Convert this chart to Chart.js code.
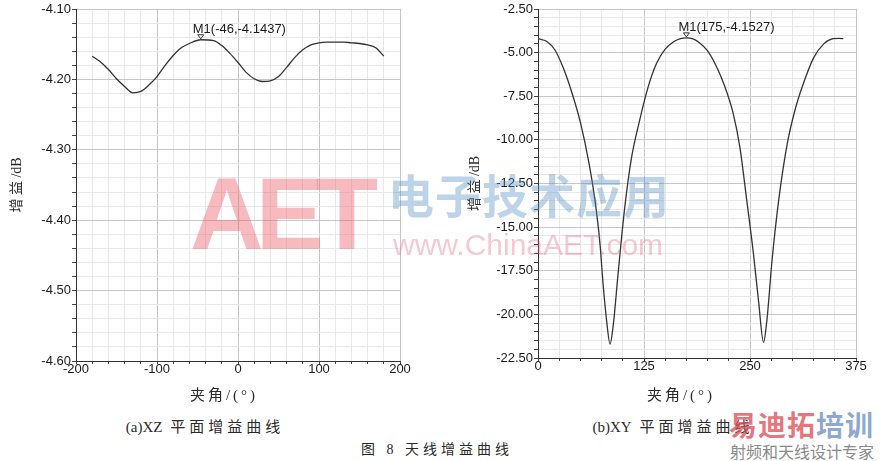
<!DOCTYPE html>
<html>
<head>
<meta charset="utf-8">
<script src="https://cdn.jsdelivr.net/npm/chart.js@4.4.1/dist/chart.umd.min.js"></script>
<style>
    body { margin: 0; background: #fff; }
    #page { position: relative; width: 881px; height: 461px; overflow: hidden; background: #fff; }
    canvas { position: absolute; top: 0; }
    .txt { position: absolute; white-space: nowrap; color: #2a2a2a; transform: translate(-50%, -50%);
           font-family: 'Liberation Serif', 'Noto Sans CJK SC', serif; }
    .lat { letter-spacing: 0; }
    .wm { position: absolute; white-space: nowrap; pointer-events: none; }
</style>
</head>
<body>
<div id="page">
    <canvas id="xzChart" width="420" height="385" style="left:0"></canvas>
    <canvas id="xyChart" width="431" height="385" style="left:450px"></canvas>

    <div class="txt" style="left:224px; top:393px; font-size:15px; letter-spacing:3px">夹角/(°)</div>
    <div class="txt" style="left:681px; top:393px; font-size:15px; letter-spacing:3px">夹角/(°)</div>
    <div class="txt" style="left:205px; top:425px; font-size:15px; letter-spacing:4px"><span class="lat">(a)XZ</span> 平面增益曲线</div>
    <div class="txt" style="left:673px; top:425px; font-size:15px; letter-spacing:4px"><span class="lat">(b)XY</span> 平面增益曲线</div>
    <div class="txt" style="left:437px; top:448px; font-size:14px; letter-spacing:4px">图 8  天线增益曲线</div>

    <!-- watermarks -->
    <div class="wm" style="left:190px; top:156px; font:700 102px 'Liberation Sans', Arial, sans-serif; letter-spacing:-8px; color:rgba(236,90,100,0.42)">AET</div>
    <div class="wm" style="left:388px; top:160px; font:700 46px 'Noto Sans CJK SC', sans-serif; letter-spacing:1px; color:rgba(80,140,195,0.38)">电子技术应用</div>
    <div class="wm" style="left:393px; top:228px; font:30px 'Liberation Sans', Arial, sans-serif; color:rgba(225,100,130,0.35)">www.ChinaAET.com</div>
    <div class="wm" style="left:729px; top:404px; font:700 28px 'Noto Sans CJK SC', sans-serif; letter-spacing:1px">
        <span style="color:rgba(222,80,90,0.8)">易迪拓</span><span style="color:rgba(110,145,195,0.8)">培训</span>
    </div>
    <div class="wm" style="left:730px; top:439px; font:16px 'Noto Sans CJK SC', sans-serif; color:#8a8a8a">射频和天线设计专家</div>
</div>

<script>
// XZ plane gain
const xzAngle = [-180, -170, -160, -150, -140, -130, -120, -110, -100, -90, -80, -70, -60, -46,
                 -30, -20, -10, 0, 10, 20, 30, 40, 50, 60, 70, 80, 90, 100, 110, 120, 130, 140,
                 150, 160, 170, 180];
const xzGain = [-4.167, -4.175, -4.186, -4.199, -4.210, -4.219, -4.217, -4.208, -4.196, -4.180,
                -4.166, -4.155, -4.149, -4.1437, -4.145, -4.152, -4.163, -4.176, -4.190, -4.199,
                -4.203, -4.202, -4.196, -4.183, -4.169, -4.158, -4.151, -4.148, -4.147, -4.147,
                -4.147, -4.148, -4.149, -4.151, -4.155, -4.167];

// XY plane gain
const xyAngle = [0, 10, 20, 30, 40, 50, 60, 67, 73, 77, 81, 85, 89, 94, 102, 110, 120, 130, 140,
                 150, 160, 168, 175, 182, 190, 200, 210, 220, 230, 238, 246, 254, 260, 266, 270,
                 276, 284, 294, 303, 312, 325, 337, 348, 355, 360];
const xyGain = [-4.20, -4.35, -4.85, -5.9, -7.3, -9.0, -11.3, -13.4, -15.9, -18.4, -20.4, -21.7,
                -20.5, -17.9, -14.0, -11.1, -8.85, -6.95, -5.6, -4.8, -4.38, -4.2, -4.1527, -4.2,
                -4.42, -4.9, -5.75, -6.9, -8.45, -10.4, -13.4, -16.5, -19.2, -21.6, -20.3, -16.9,
                -13.4, -10.2, -8.3, -6.9, -5.3, -4.5, -4.2, -4.18, -4.2];

// tick labels
const xzXTicks = [-200, -100, 0, 100, 200];
const xzYTicks = [-4.60, -4.50, -4.40, -4.30, -4.20, -4.10];
const xyXTicks = [0, 125, 250, 375];
const xyYTicks = [-22.50, -20.00, -17.50, -15.00, -12.50, -10.00, -7.50, -5.00, -2.50];

// markers
const xzMarker = [-46, -4.1437];
const xyMarker = [175, -4.1527];

const tickFont = { family: "'Liberation Sans', Arial, sans-serif", size: 13 };

function isMajor(v, list) {
    return list.some(t => Math.abs(t - v) < 1e-6);
}

// draws the M1 marker triangle and its label
const markerPlugin = {
    id: 'markerLabel',
    afterDatasetsDraw(chart, args, opts) {
        const ctx = chart.ctx;
        const px = chart.scales.x.getPixelForValue(opts.point[0]);
        const py = chart.scales.y.getPixelForValue(opts.point[1]);
        ctx.save();
        ctx.strokeStyle = '#333';
        ctx.lineWidth = 1;
        ctx.beginPath();
        ctx.moveTo(px, py - 1);
        ctx.lineTo(px - 3, py - 5);
        ctx.lineTo(px + 3, py - 5);
        ctx.closePath();
        ctx.stroke();
        ctx.fillStyle = '#1a1a1a';
        ctx.font = "13px 'Liberation Sans', Arial, sans-serif";
        ctx.textAlign = 'left';
        ctx.textBaseline = 'alphabetic';
        ctx.fillText('M1(' + opts.point[0] + ',' + opts.point[1] + ')', px - 8, py - 7);
        ctx.restore();
    }
};

function makeChart(id, angles, gains, xTicks, yTicks, marker, layout) {
    const points = angles.map((a, i) => ({ x: a, y: gains[i] }));
    const xStep = (xTicks[1] - xTicks[0]) / 5;
    const yStep = (yTicks[1] - yTicks[0]) / 5;

    return new Chart(document.getElementById(id), {
        type: 'line',
        data: {
            datasets: [{
                data: points,
                borderColor: '#333',
                borderWidth: 1.3,
                pointRadius: 0,
                cubicInterpolationMode: 'monotone',
                fill: false
            }]
        },
        plugins: [markerPlugin],
        options: {
            responsive: false,
            animation: false,
            devicePixelRatio: 1,
            layout: { padding: { top: 9, right: layout.right, left: 0, bottom: 0 } },
            plugins: {
                legend: { display: false },
                tooltip: { enabled: false },
                markerLabel: { point: marker }
            },
            scales: {
                x: {
                    type: 'linear',
                    min: xTicks[0],
                    max: xTicks[xTicks.length - 1],
                    afterFit: s => { s.height = layout.xHeight; },
                    border: { display: true, color: '#333', width: 1 },
                    grid: {
                        color: c => isMajor(c.tick.value, xTicks) ? '#c6c6c6' : '#e8e8e8',
                        tickColor: '#444',
                        tickLength: 3
                    },
                    ticks: {
                        stepSize: xStep,
                        autoSkip: false,
                        maxRotation: 0,
                        padding: -2,
                        color: '#1a1a1a',
                        font: tickFont,
                        callback: v => isMajor(v, xTicks) ? String(Math.round(v)) : ''
                    }
                },
                y: {
                    type: 'linear',
                    min: yTicks[0],
                    max: yTicks[yTicks.length - 1],
                    afterFit: s => { s.width = layout.yWidth; },
                    border: { display: true, color: '#333', width: 1 },
                    grid: {
                        color: c => isMajor(c.tick.value, yTicks) ? '#c6c6c6' : '#e8e8e8',
                        tickColor: '#444',
                        tickLength: 4
                    },
                    ticks: {
                        stepSize: yStep,
                        autoSkip: false,
                        padding: 1,
                        color: '#1a1a1a',
                        font: tickFont,
                        callback: v => isMajor(v, yTicks) ? v.toFixed(2) : ''
                    },
                    title: {
                        display: true,
                        text: '增 益 /dB',
                        color: '#2a2a2a',
                        padding: { top: layout.titlePad, bottom: 0 },
                        font: { family: "'Liberation Serif', 'Noto Sans CJK SC', serif", size: 14 }
                    }
                }
            }
        }
    });
}

makeChart('xzChart', xzAngle, xzGain, xzXTicks, xzYTicks, xzMarker,
          { right: 20, xHeight: 24, yWidth: 76, titlePad: 9 });
makeChart('xyChart', xyAngle, xyGain, xyXTicks, xyYTicks, xyMarker,
          { right: 25, xHeight: 27, yWidth: 88, titlePad: 17 });
</script>
</body>
</html>
